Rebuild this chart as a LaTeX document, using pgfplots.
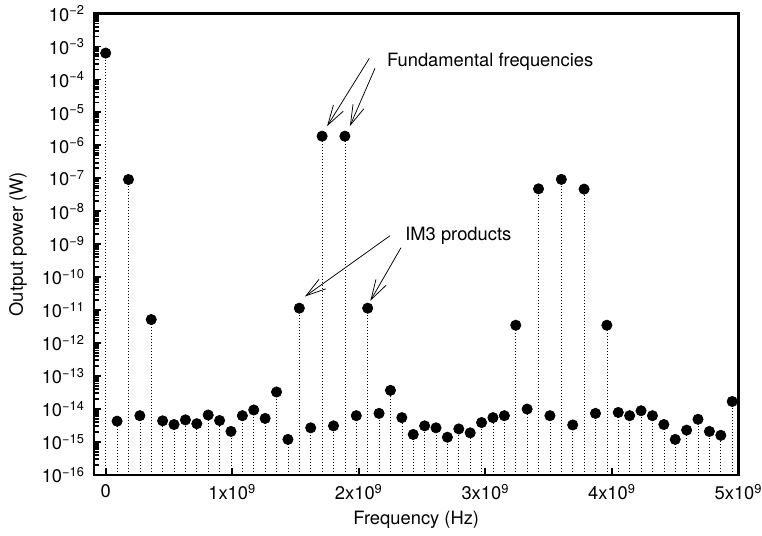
\documentclass[border=0pt]{standalone}
\usepackage{fontspec}
\setmainfont{TeX Gyre Heros}
\usepackage{pgfplots}
\pgfplotsset{compat=1.18}
\usepackage{pgfplotstable}
\usetikzlibrary{arrows.meta}

\pgfplotstableread{
x       p
0.00e9  6.3e-4
0.09e9  4.3e-15
0.18e9  9.2e-8
0.27e9  6.3e-15
0.36e9  5.2e-12
0.45e9  4.4e-15
0.54e9  3.4e-15
0.63e9  4.7e-15
0.72e9  3.6e-15
0.81e9  6.6e-15
0.90e9  4.5e-15
0.99e9  2.1e-15
1.08e9  6.3e-15
1.17e9  9.4e-15
1.26e9  5.2e-15
1.35e9  3.3e-14
1.44e9  1.2e-15
1.53e9  1.15e-11
1.62e9  2.7e-15
1.71e9  1.9e-6
1.80e9  3.1e-15
1.89e9  1.9e-6
1.98e9  6.3e-15
2.07e9  1.15e-11
2.16e9  7.4e-15
2.25e9  3.7e-14
2.34e9  5.5e-15
2.43e9  1.7e-15
2.52e9  3.1e-15
2.61e9  2.7e-15
2.70e9  1.4e-15
2.79e9  2.5e-15
2.88e9  1.9e-15
2.97e9  3.9e-15
3.06e9  5.5e-15
3.15e9  6.3e-15
3.24e9  3.5e-12
3.33e9  1.0e-14
3.42e9  4.8e-8
3.51e9  6.3e-15
3.60e9  9.3e-8
3.69e9  3.3e-15
3.78e9  4.7e-8
3.87e9  7.4e-15
3.96e9  3.5e-12
4.05e9  7.9e-15
4.14e9  6.3e-15
4.23e9  8.9e-15
4.32e9  6.3e-15
4.41e9  3.4e-15
4.50e9  1.2e-15
4.59e9  2.3e-15
4.68e9  4.9e-15
4.77e9  2.1e-15
4.86e9  1.6e-15
4.95e9  1.7e-14
}\spectrum

\begin{document}
\begin{tikzpicture}[font=\fontsize{11}{13}\selectfont]
\begin{axis}[
  scale only axis,
  width=386.7pt, height=276.9pt,
  xmin=-0.0923e9, xmax=5e9,
  ymode=log, ymin=1e-16, ymax=1e-2,
  log origin y=infty,
  clip=false,
  scaled x ticks=false,
  axis line style={line width=1.5pt},
  tick align=inside,
  xtick pos=bottom, ytick pos=left,
  major tick length=4pt,
  minor tick num=0,
  tick style={line width=1.1pt, black},
  xtick={0,1e9,2e9,3e9,4e9,5e9},
  xticklabels={0, 1x10\textsuperscript{9}, 2x10\textsuperscript{9}, 3x10\textsuperscript{9}, 4x10\textsuperscript{9}, 5x10\textsuperscript{9}},
  ytick={1e-16,1e-15,1e-14,1e-13,1e-12,1e-11,1e-10,1e-9,1e-8,1e-7,1e-6,1e-5,1e-4,1e-3,1e-2},
  yticklabels={10\textsuperscript{−16},10\textsuperscript{−15},10\textsuperscript{−14},10\textsuperscript{−13},10\textsuperscript{−12},10\textsuperscript{−11},10\textsuperscript{−10},10\textsuperscript{−9},10\textsuperscript{−8},10\textsuperscript{−7},10\textsuperscript{−6},10\textsuperscript{−5},10\textsuperscript{−4},10\textsuperscript{−3},10\textsuperscript{−2}},
  yticklabel style={xshift=-2pt},
  xticklabel style={yshift=-2pt},
  xlabel={Frequency (Hz)},
  ylabel={Output power (W)},
  every axis x label/.style={at={(axis description cs:0.5,-0.0975)}, anchor=center},
  every axis y label/.style={at={(axis description cs:-0.1179,0.5)}, anchor=center, rotate=90},
]
\addplot[ycomb, black, line width=0.4pt, dash pattern=on 0.4pt off 1.4pt, mark=none] table[x=x, y=p] {\spectrum};
\addplot[only marks, mark=*, mark size=3.1pt, black] table[x=x, y=p] {\spectrum};

\node[anchor=base west, inner sep=0pt] at (axis description cs:0.4542,0.8847) {Fundamental frequencies};
\node[anchor=base west, inner sep=0pt] at (axis description cs:0.4826,0.5092) {IM3 products};

\draw[line width=0.45pt, -{Straight Barb[length=12pt, width=7pt, line width=0.45pt]}]
  (axis description cs:0.4272,0.9029) -- ([xshift=3pt, yshift=6pt]axis cs:1.71e9,1.9e-6);
\draw[line width=0.45pt, -{Straight Barb[length=12pt, width=7pt, line width=0.45pt]}]
  (axis description cs:0.4360,0.8813) -- ([xshift=3pt, yshift=6pt]axis cs:1.89e9,1.9e-6);
\draw[line width=0.45pt, -{Straight Barb[length=12pt, width=7pt, line width=0.45pt]}]
  (axis description cs:0.4593,0.5185) -- ([xshift=3.4pt, yshift=7pt]axis cs:1.53e9,1.15e-11);
\draw[line width=0.45pt, -{Straight Barb[length=12pt, width=7pt, line width=0.45pt]}]
  (axis description cs:0.4763,0.4925) -- ([xshift=1.6pt, yshift=4.4pt]axis cs:2.07e9,1.15e-11);

\coordinate (SW) at (rel axis cs:0,0);
\coordinate (NE) at (rel axis cs:1,1);
\end{axis}
\pgfresetboundingbox
\path[use as bounding box] ([shift={(-56.4pt,-36pt)}]SW) rectangle ([shift={(14.1pt,8.1pt)}]NE);
\end{tikzpicture}
\end{document}
